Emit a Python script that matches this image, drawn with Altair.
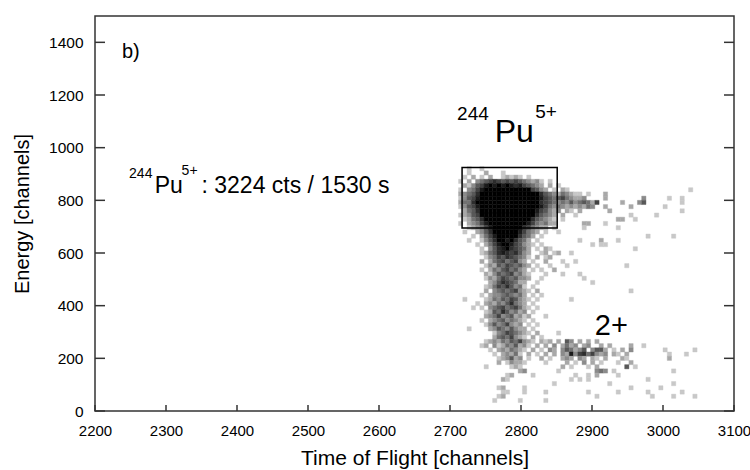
import altair as alt
import pandas as pd

# ---- data ----
# 2D histogram: time-of-flight bins (6 channels wide) x energy bins (16 channels wide)
TOF_FIRST_BIN = 2712
TOF_BIN_WIDTH = 6
E_FIRST_BIN = 32
E_BIN_WIDTH = 16

# Each row is one energy bin (top row = highest energy). Characters are
# intensity levels 1..9 ('.' = empty); '|' separates groups of 10 TOF bins.
HIST_ROWS = [
    "..1..1....",                                                    # r55
    "..1...2...|1",                                                  # r54
    ".1.2.1.2..|12121.1",                                            # r53
    "1.2.345676|5656543231|.1",                                      # r52
    ".213568989|8987865432|.2.1",                                    # r51
    "1.34689999|9999999653|2.1.21....|..........|..........|....1",  # r50
    "2345799999|9999999997|543243211.|1...2",                        # r49
    "1356899999|9999999998|6545643223|....2.....|...3.....1|..1",    # r48
    "2447999999|9999999997|6543435345|426.....2.|..35......|..1",    # r47
    "1356899999|9999999998|6434323232|43..2.....|2.......1.",        # r46
    ".245799999|9999999986|5323.21.2.|.....2....|..........|..1",    # r45
    "1235699999|9999999975|432.2..1..|..........|1.....1...",        # r44
    ".124579999|9999999754|321.1.....|.......22.|.1",                # r43
    "1.23468999|9999998643|422......2|2...1",                        # r42
    "..12346899|9999976432|2.1......1|.......1",                     # r41
    ".1..235799|999986432.|1..1",                                    # r40
    "...1.24689|99997542.1|..........|..........|....1.....|1",      # r39
    "..1..13579|9897542.1.|........1.|...2...1",                     # r38
    "....1.2468|99865321.1|..........|.1.11",                        # r37
    ".....1.357|8976542.1.|21........|..........|.1",                # r36
    ".....12457|8767532..1|2.12..1",                                 # r35
    "......1346|5765431.2.|12",                                      # r34
    ".....2.245|645632.1..|2...1..1",                                # r33
    "......1325|4654532.1.|.1...1....|.........1",                   # r32
    ".....1.243|564532.1.1|..2",                                     # r31
    "......2135|4563421...|1...1...1.",                              # r30
    "......1324|6545332..1|.........1",                              # r29
    ".......235|765422..1.|..........|.1",                           # r28
    "......1246|575341.1",                                           # r27
    "......2.34|5456321.2.|..........|..........|1",                 # r26
    ".....1.233|454342.1.1",                                         # r25
    ".1....1243|5465321.1.|......1",                                 # r24
    "....1.2324|357432.1",                                           # r23
    "...1.1.345|6456421.1.",                                         # r22
    "......1254|753423.1",                                           # r21
    "......2346|3452312...|1",                                       # r20
    ".....1.234|534321.1",                                           # r19
    "......1353|46323.1.1.",                                         # r18
    "..1....235|435322.1",                                           # r17
    "........13|4654321.2.|...1",                                    # r16
    "........24|546321.2.1",                                         # r15
    "......1232|43546321.2|12.2.53.2.|2.2",                          # r14
    ".....12.31|2435231.2.|2.3.2423.2|3..2.2....|2..1",              # r13
    ".......1.2|324321.2.1|.32.354235|.3552.1.2.|3.......1.|.....1", # r12
    "........1.|23241.2.1.|2.2.328367|46323.21.2|.........1|...1",   # r11
    ".........1|23523.1..2|.1..232.32|.21.2...21|.........2",        # r10
    ".........2|.13221....|1....2.1.3|.2.1...1..|2",                 # r9
    "......1...|..121.....|....2.1...|1.2......5|.1",                # r8
    "..........|....23....|...1......|..343.1...|..........|1",      # r7
    "..........|.12....1..|.......1..|1.2....1",                     # r6
    "..........|21........|......1.1.|1.........|....1",             # r5
    "..........|..........|..1.......|.....1....|..........|1",      # r4
    ".........1|2....1....|..........|..........|1......1",          # r3
    "..........|11...1....|1.........|1......1..|....1.....|..1",    # r2
    ".........1|2.........|..........|..1.......|.....1....|1....1", # r1
    "........1.|....1.....|1",                                       # r0
]

X_TICKS = [2200, 2300, 2400, 2500, 2600, 2700, 2800, 2900, 3000, 3100]
Y_TICKS = [0, 200, 400, 600, 800, 1000, 1200, 1400]

GATE_TOF = [2717, 2851]   # 244Pu5+ gate
GATE_E = [695, 925]

# ---- build histogram table ----
records = []
n_rows = len(HIST_ROWS)
for i, row in enumerate(HIST_ROWS):
    r = n_rows - 1 - i
    cells = "".join(g.ljust(10, ".") for g in row.split("|"))
    for c, ch in enumerate(cells):
        if ch != ".":
            t0 = TOF_FIRST_BIN + c * TOF_BIN_WIDTH
            e0 = E_FIRST_BIN + r * E_BIN_WIDTH
            records.append({"tof": t0, "tof2": t0 + TOF_BIN_WIDTH,
                            "e": e0, "e2": e0 + E_BIN_WIDTH, "level": int(ch)})
hist = pd.DataFrame(records)

W, H = 639, 395
FONT = "Liberation Sans"
xs = alt.Scale(domain=[2200, 3100], nice=False, zero=False)
ys = alt.Scale(domain=[0, 1500], nice=False, zero=True)
X_AXIS = alt.Axis(values=X_TICKS, title="Time of Flight [channels]", labelFlush=False,
                  format="d", labelPadding=12, titlePadding=9, titleFontSize=21,
                  labelFontSize=15)
Y_AXIS = alt.Axis(values=Y_TICKS, title="Energy [channels]", labelFlush=False,
                  format="d", labelPadding=12, titlePadding=16, titleFontSize=20,
                  labelFontSize=15.5)


def X(field):
    return alt.X(field, scale=xs, axis=X_AXIS)


def Y(field):
    return alt.Y(field, scale=ys, axis=Y_AXIS)


gray_scale = alt.Scale(type="pow", exponent=0.85, domain=[1, 9],
                       range=["#c8c8c8", "#000000"])
heat = alt.Chart(hist).mark_rect(strokeWidth=0.4).encode(
    x=X("tof:Q"), x2="tof2:Q",
    y=Y("e:Q"), y2="e2:Q",
    color=alt.Color("level:Q", legend=None, scale=gray_scale),
    stroke=alt.Stroke("level:Q", legend=None, scale=gray_scale),
)

gate = alt.Chart(pd.DataFrame({"tof": [GATE_TOF[0]], "tof2": [GATE_TOF[1]],
                               "e": [GATE_E[0]], "e2": [GATE_E[1]]})).mark_rect(
    fillOpacity=0, stroke="black", strokeWidth=1.5
).encode(x=X("tof:Q"), x2="tof2:Q", y=Y("e:Q"), y2="e2:Q")

xt = pd.DataFrame({"tof": X_TICKS})
yt = pd.DataFrame({"e": Y_TICKS})
tick_style = dict(color="#333333", strokeWidth=1.5)
xticks = alt.Chart(xt).mark_rule(**tick_style).encode(
    x=X("tof:Q"), y=alt.value(H), y2=alt.value(H - 6))
yticks_l = alt.Chart(yt).mark_rule(**tick_style).encode(
    y=Y("e:Q"), x=alt.value(0), x2=alt.value(10))
yticks_r = alt.Chart(yt).mark_rule(**tick_style).encode(
    y=Y("e:Q"), x=alt.value(W - 10), x2=alt.value(W))


def label(text, tof, e, size):
    return alt.Chart(pd.DataFrame({"tof": [tof], "e": [e], "s": [text]})).mark_text(
        align="left", baseline="alphabetic", font=FONT, fontSize=size, color="black"
    ).encode(x=X("tof:Q"), y=Y("e:Q"), text="s:N")


labels = [
    label("b)", 2238, 1340, 20),
    label("244", 2710, 1105, 19),
    label("Pu", 2763, 1022, 32),
    label("5+", 2820, 1113, 19),
    label("244", 2248, 885, 14),
    label("Pu", 2284, 828, 23),
    label("5+", 2322, 895, 14),
    label(": 3224 cts / 1530 s", 2350, 828, 23),
    label("2+", 2904, 289, 29),
]

chart = alt.layer(heat, gate, xticks, yticks_l, yticks_r, *labels).properties(
    width=W, height=H,
    padding={"left": 95, "top": 16, "right": 16, "bottom": 59},
    autosize=alt.AutoSizeParams(type="none"),
    background="white",
).configure_view(
    stroke="#333333", strokeWidth=1.5
).configure_axis(
    grid=False, domain=False, ticks=False, tickSize=0,
    labelFont=FONT, titleFont=FONT, labelFontSize=16,
    labelColor="black", titleColor="black", titleFontWeight="normal",
)

chart.save("out.html", embed_options={"renderer": "svg", "actions": False})
